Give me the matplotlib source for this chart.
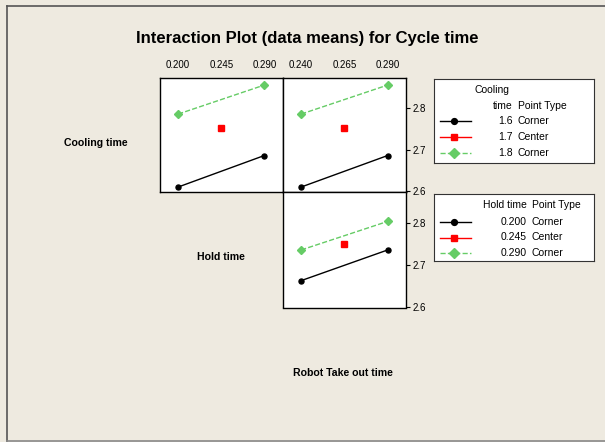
import matplotlib.pyplot as plt
from matplotlib.lines import Line2D

plt.rcParams['font.family'] = ['Liberation Sans', 'DejaVu Sans']

# factor levels
hold_levels = [0.200, 0.245, 0.290]
robot_levels = [0.240, 0.265, 0.290]
cooling_levels = ['1.6', '1.7', '1.8']
hold_names = ['0.200', '0.245', '0.290']
point_types = ['Corner', 'Center', 'Corner']

# means: Cooling time x Hold time
cool_hold = {
    '1.6': [2.610, 2.686],
    '1.7': [2.752],
    '1.8': [2.786, 2.856],
}
# means: Cooling time x Robot take out time
cool_robot = {
    '1.6': [2.610, 2.686],
    '1.7': [2.752],
    '1.8': [2.786, 2.856],
}
# means: Hold time x Robot take out time
hold_robot = {
    '0.200': [2.662, 2.735],
    '0.245': [2.749],
    '0.290': [2.735, 2.803],
}

bg = '#EEEAE0'
styles = [
    dict(color='black', marker='o', ls='-', ms=3.6, lw=1),
    dict(color='#FF0000', marker='s', ls='-', ms=3.8, lw=1),
    dict(color='#66CC66', marker='D', ls='--', ms=4.0, lw=1),
]

W, H = 605, 442
fig = plt.figure(figsize=(W / 100, H / 100), dpi=100, facecolor=bg)


def box(x0, y0, x1, y1):
    return [x0 / W, 1 - y1 / H, (x1 - x0) / W, (y1 - y0) / H]


# outer frame: left, top and bottom edges only
fx = lambda px: px / W
fy = lambda py: 1 - py / H
fig.add_artist(Line2D([fx(7), fx(7)], [fy(6), fy(441)], color='#555555', lw=1.2,
                      transform=fig.transFigure))
fig.add_artist(Line2D([fx(7), 1], [fy(6), fy(6)], color='#555555', lw=1.2,
                      transform=fig.transFigure))
fig.add_artist(Line2D([fx(7), 1], [fy(441), fy(441)], color='#888888', lw=1.2,
                      transform=fig.transFigure))

ylim = (2.598, 2.873)


def panel(rect, levels, data, xlim):
    ax = fig.add_axes(rect)
    ax.set_facecolor('white')
    for i, (k, vals) in enumerate(data.items()):
        xs = [levels[0], levels[2]] if len(vals) == 2 else [levels[1]]
        st = dict(styles[i])
        if len(vals) == 1:
            st['ls'] = 'none'
        ax.plot(xs, vals, color=st['color'], marker=st['marker'], ls=st['ls'],
                ms=st['ms'], lw=st['lw'])
    ax.set_xlim(*xlim)
    ax.set_ylim(*ylim)
    for s in ax.spines.values():
        s.set_linewidth(1)
    ax.set_xticks([])
    ax.set_yticks([])
    return ax


ax1 = panel(box(159.5, 78, 282.5, 192), hold_levels, cool_hold, (0.1805, 0.309))
ax2 = panel(box(282.5, 78, 406, 192), robot_levels, cool_robot, (0.2292, 0.3006))
ax3 = panel(box(282.5, 192, 406, 307.5), robot_levels, hold_robot, (0.2292, 0.3006))

for ax, lv in [(ax1, hold_levels), (ax2, robot_levels)]:
    ax.xaxis.tick_top()
    ax.set_xticks(lv)
    ax.set_xticklabels([f'{v:.3f}' for v in lv])
    ax.tick_params(axis='x', length=0, pad=6, labelsize=7)

for ax in [ax2, ax3]:
    ax.yaxis.tick_right()
    ax.set_yticks([2.6, 2.7, 2.8])
    ax.set_yticklabels(['2.6', '2.7', '2.8'])
    ax.tick_params(axis='y', length=3, width=0.8, pad=2, labelsize=7)

fig.text(307 / W, 1 - 39 / H, 'Interaction Plot (data means) for Cycle time',
         ha='center', va='center', fontsize=12, fontweight='bold')
fig.text(95.5 / W, 1 - 143 / H, 'Cooling time', ha='center', va='center',
         fontsize=7.6, fontweight='bold')
fig.text(220.5 / W, 1 - 257 / H, 'Hold time', ha='center', va='center',
         fontsize=7.6, fontweight='bold')
fig.text(343 / W, 1 - 373 / H, 'Robot Take out time', ha='center', va='center',
         fontsize=7.6, fontweight='bold')


def legend(y0, y1, headers, col_x, names, rows_y):
    lax = fig.add_axes(box(434, y0, 594, y1))
    lax.set_xlim(434, 594)
    lax.set_ylim(y1, y0)
    lax.set_xticks([])
    lax.set_yticks([])
    lax.set_facecolor('white')
    for s in lax.spines.values():
        s.set_linewidth(0.8)
        s.set_color('#333333')
    for x, y, t, ha in headers:
        lax.text(x, y, t, ha=ha, va='center', fontsize=7.5)
    for i, (val, pt) in enumerate(zip(names, point_types)):
        y = rows_y[i]
        st = styles[i]
        lax.add_line(Line2D([440, 470.7], [y, y], color=st['color'], ls=st['ls'], lw=1))
        lax.plot([454], [y], color=st['color'], marker=st['marker'], ms=st['ms'] + 0.6)
        lax.text(col_x, y, val, ha='right', va='center', fontsize=7.5)
        lax.text(col_x + 5, y, pt, ha='left', va='center', fontsize=7.5)


legend(79, 163,
       [(475, 90, 'Cooling', 'left'), (512.5, 106, 'time', 'right'),
        (517.5, 106, 'Point Type', 'left')],
       512.5, cooling_levels, [121, 137, 153])
legend(194, 261,
       [(526.5, 205.5, 'Hold time', 'right'), (531.5, 205.5, 'Point Type', 'left')],
       526.5, hold_names, [222, 237.5, 253])

fig.savefig('out.png', dpi=100, facecolor=bg)
